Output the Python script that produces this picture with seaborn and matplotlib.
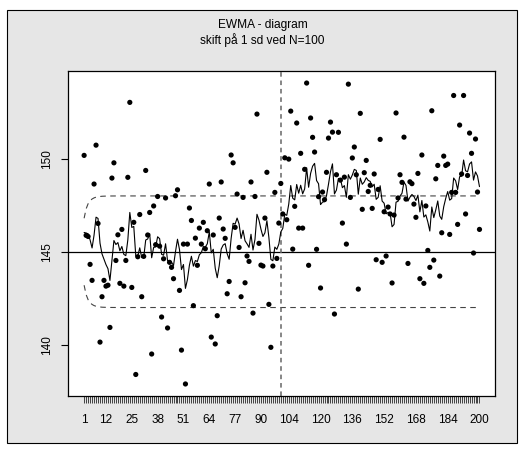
import numpy as np
import pandas as pd
import matplotlib
matplotlib.use("Agg")
import matplotlib.pyplot as plt
from matplotlib.patches import Rectangle
import seaborn as sns

# ---- data ----
values = [
    150.18, 145.88, 145.82, 144.32, 143.46, 148.64, 150.73, 146.52, 140.14, 142.58,
    143.46, 143.15, 143.20, 140.93, 148.96, 149.78, 144.53, 145.91, 143.30, 146.20,
    143.15, 144.53, 149.00, 153.03, 143.08, 146.58, 138.40, 144.73, 147.00, 142.58,
    144.75, 149.37, 145.90, 147.11, 139.50, 147.46, 145.38, 147.97, 145.30, 141.49,
    144.62, 147.89, 140.90, 144.43, 144.16, 143.55, 148.01, 148.33, 142.92, 139.71,
    145.41, 137.89, 145.41, 147.35, 146.68, 142.10, 145.73, 144.27, 146.27, 145.41,
    146.58, 145.16, 146.13, 148.64, 140.41, 145.90, 140.04, 141.56, 146.81, 148.75,
    146.22, 145.72, 142.74, 143.40, 150.20, 149.78, 146.31, 148.10, 145.23, 142.58,
    147.92, 143.33, 144.77, 144.48, 148.75, 141.70, 147.97, 152.40, 145.45, 144.28,
    144.23, 146.81, 149.27, 142.17, 139.86, 144.23, 148.19, 144.64, 146.54, 148.67,
    147.03, 150.05, 146.72, 149.98, 152.56, 145.14, 147.44, 151.92, 146.27, 150.29,
    146.27, 149.43, 154.07, 144.27, 152.19, 151.15, 150.36, 145.13, 147.96, 143.05,
    148.21, 147.80, 149.27, 151.11, 151.97, 151.43, 141.65, 149.14, 151.42, 148.85,
    146.54, 149.01, 145.41, 154.01, 147.92, 150.04, 150.63, 149.14, 142.99, 152.44,
    147.28, 149.25, 149.91, 148.24, 148.57, 147.33, 149.18, 144.57, 148.35, 151.04,
    144.43, 147.15, 144.77, 147.40, 147.03, 143.32, 146.97, 152.46, 147.89, 149.14,
    148.73, 151.16, 147.83, 144.37, 148.76, 148.66, 147.56, 146.85, 149.21, 143.55,
    150.20, 143.30, 147.46, 145.07, 144.16, 152.58, 144.55, 148.92, 149.64, 143.69,
    146.02, 150.14, 149.64, 149.71, 145.93, 148.19, 153.40, 148.19, 146.47, 151.81,
    149.18, 153.40, 147.03, 149.10, 151.38, 150.29, 144.93, 151.06, 148.21, 146.20,
]
xlabels_shown = [1, 12, 25, 38, 51, 64, 77, 90, 104, 120, 136, 152, 168, 184, 200]
yticks = [140, 145, 150]
title1 = "EWMA - diagram"
title2 = "skift på 1 sd ved N=100"
target = 145.0
sigma = 3.0
lam = 0.2
L = 3.0
shift_at = 100

# ---- derived series (EWMA statistic and its control limits) ----
n = len(values)
idx = np.arange(1, n + 1)
z = []
prev = target
for v in values:
    prev = lam * v + (1 - lam) * prev
    z.append(prev)
width = L * sigma * np.sqrt(lam / (2 - lam) * (1 - (1 - lam) ** (2 * idx)))
df = pd.DataFrame({"i": idx, "x": values, "ewma": z,
                   "ucl": target + width, "lcl": target - width})

sns.set_theme(style="white")
plt.rcParams["font.family"] = ["Liberation Sans", "DejaVu Sans"]

fig = plt.figure(figsize=(5.25, 4.53), dpi=100)
fig.patch.set_facecolor("white")
fig.patches.append(Rectangle((7 / 525, 1 - 443 / 453), 510 / 525, 433 / 453,
                             transform=fig.transFigure, facecolor="#e6e6e6",
                             edgecolor="black", linewidth=0.8, zorder=-5))

ax = fig.add_axes([68.3 / 525, 1 - 396 / 453, (495.3 - 68.3) / 525, (396 - 71) / 453])
ax.set_zorder(2)
ax.set_facecolor("white")

sns.scatterplot(data=df, x="i", y="x", ax=ax, s=14, color="black",
                edgecolor="none", linewidth=0, zorder=3)
sns.lineplot(data=df, x="i", y="ewma", ax=ax, color="black", linewidth=0.8, zorder=4)
sns.lineplot(data=df, x="i", y="ucl", ax=ax, color="#444444", linewidth=0.8,
             linestyle=(0, (5, 4)), zorder=2)
sns.lineplot(data=df, x="i", y="lcl", ax=ax, color="#444444", linewidth=0.8,
             linestyle=(0, (5, 4)), zorder=2)
ax.axhline(target, color="black", linewidth=0.9, zorder=2)
ax.axvline(shift_at, color="#666666", linewidth=1.1, linestyle=(0, (3, 2.5)), zorder=2)

span = n - 1
ax.set_xlim(1 - 0.04 * span, n + 0.04 * span)
ymin, ymax = min(values), max(values)
ax.set_ylim(ymin - 0.04 * (ymax - ymin), ymax + 0.04 * (ymax - ymin))

ax.set_xticks(idx)
ax.set_xticklabels([str(k) if k in xlabels_shown else "" for k in idx])
ax.set_yticks(yticks)
ax.set_yticklabels([str(t) for t in yticks], rotation=90, va="center")
ax.tick_params(axis="x", length=5, width=0.5, pad=8, labelsize=8.5, colors="black",
               direction="out", bottom=True)
ax.tick_params(axis="y", length=5, width=0.8, pad=6, labelsize=8.5, colors="black",
               direction="out", left=True)
ax.set_xlabel("")
ax.set_ylabel("")
for sp in ax.spines.values():
    sp.set_color("black")
    sp.set_linewidth(0.9)
    sp.set_visible(True)

fig.text(0.5, 1 - 25 / 453, title1, ha="center", va="center", fontsize=8.6, color="black")
fig.text(0.5, 1 - 40 / 453, title2, ha="center", va="center", fontsize=8.6, color="black")

fig.savefig("out.png", dpi=100)
